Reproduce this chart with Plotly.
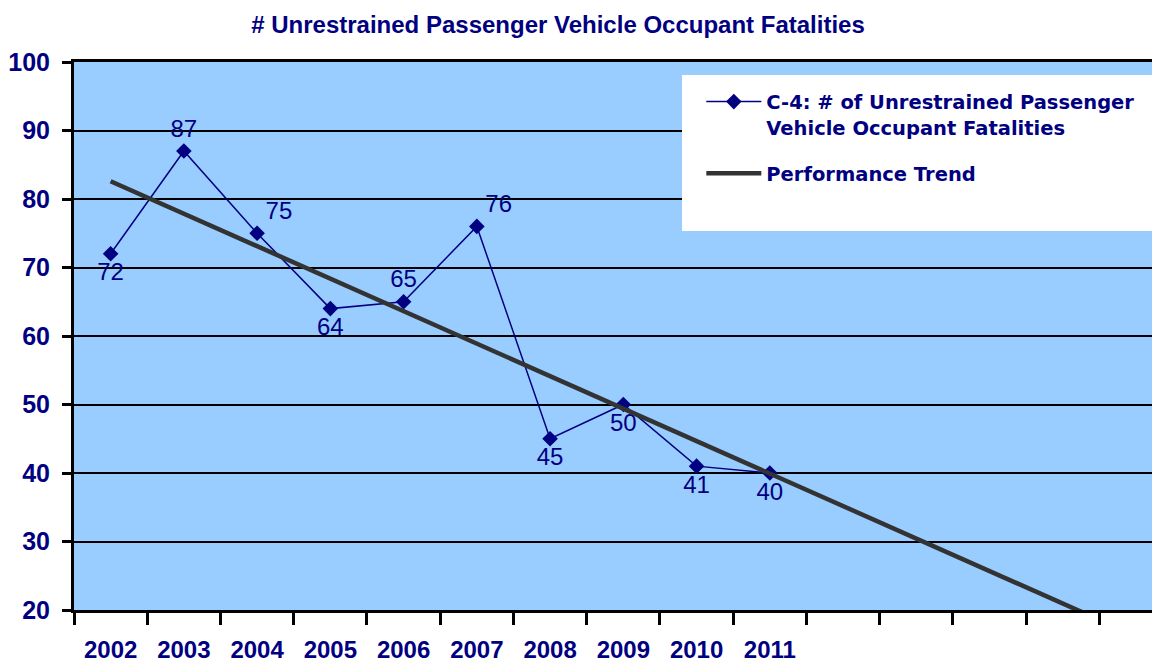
import plotly.graph_objects as go

years = ["2002", "2003", "2004", "2005", "2006", "2007", "2008", "2009", "2010", "2011"]
extra_slots = [" ", "  ", "   ", "    ", "     "]
fatalities = [72, 87, 75, 64, 65, 76, 45, 50, 41, 40]
label_pos = ["bottom center", "top center", "top right", "bottom center", "top center",
             "top right", "bottom center", "bottom center", "bottom center", "bottom center"]
trend_x = ["2002", "     "]
trend_y = [82.6, 16.2]

categories = years + extra_slots
NAVY = "#000080"

fig = go.Figure()
fig.add_trace(go.Scatter(
    x=years, y=fatalities, mode="lines+markers+text",
    name="C-4: # of Unrestrained Passenger<br>Vehicle Occupant Fatalities",
    line=dict(color=NAVY, width=1.5),
    marker=dict(symbol="diamond", size=12, color=NAVY),
    text=[str(v) for v in fatalities], textposition=label_pos,
    textfont=dict(family="Liberation Sans", size=24, color=NAVY),
    cliponaxis=False, legendgroup="a",
))
fig.add_trace(go.Scatter(
    x=trend_x, y=trend_y, mode="lines", name="Performance Trend",
    line=dict(color="#333333", width=4.5), legendgroup="b",
))

fig.update_layout(
    width=1152, height=658,
    margin=dict(l=66, r=2, t=54, b=56, autoexpand=False),
    paper_bgcolor="white", plot_bgcolor="#99CCFF",
    title=dict(text="# Unrestrained Passenger Vehicle Occupant Fatalities",
               x=550 / 1152, xref="container", xanchor="center",
               y=1 - 17 / 658, yref="container", yanchor="middle",
               font=dict(family="Liberation Sans", size=24, color=NAVY, weight="bold")),
    legend=dict(x=0.5787, y=0.9627, xanchor="left", yanchor="top",
                bgcolor="rgba(0,0,0,0)", borderwidth=0,
                font=dict(family="DejaVu Sans", size=19.5, color=NAVY, weight="bold"),
                valign="top", itemwidth=55, tracegroupgap=18),
    showlegend=True,
    shapes=[dict(type="rect", xref="paper", yref="paper",
                 x0=(682 - 74) / 1084, x1=(1156 - 74) / 1084,
                 y0=(610 - 231) / 548, y1=(610 - 75) / 548,
                 fillcolor="white", line=dict(width=0), layer="above")],
)

fig.update_xaxes(
    type="category", categoryorder="array", categoryarray=categories,
    range=[-0.5, 14.3], tickson="boundaries", automargin=False,
    showgrid=False, showline=True, linecolor="black", linewidth=3, mirror=True,
    ticks="outside", ticklen=12, tickwidth=3, tickcolor="black",
    tickfont=dict(family="Liberation Sans", size=24, color=NAVY, weight="bold"),
    ticklabelstandoff=16,
)
fig.update_yaxes(
    range=[20, 100], dtick=10, tick0=20, automargin=False,
    showgrid=True, gridcolor="black", gridwidth=2, zeroline=False,
    showline=True, linecolor="black", linewidth=3,
    ticks="outside", ticklen=9, tickwidth=3, tickcolor="black",
    tickfont=dict(family="Liberation Sans", size=25, color=NAVY, weight="bold"),
    ticklabelstandoff=7,
)

fig.write_html("out.html")
